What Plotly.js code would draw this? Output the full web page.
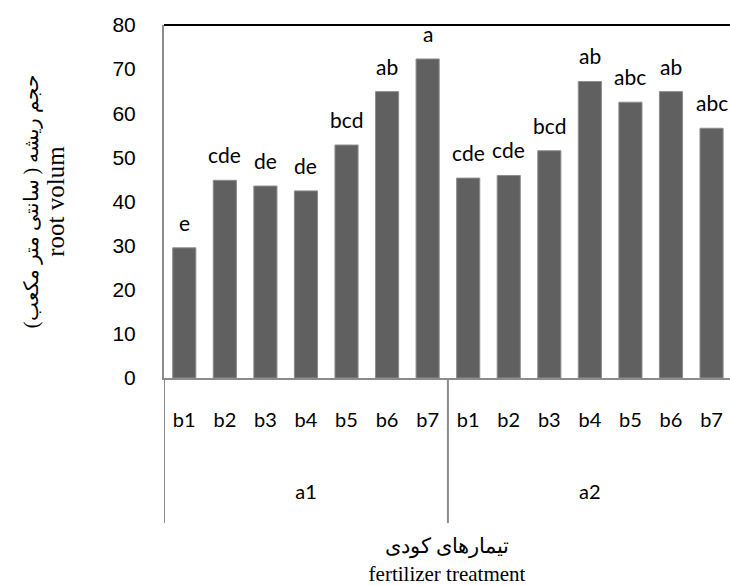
<!DOCTYPE html>
<html>
<head>
<meta charset="utf-8">
<script src="https://cdn.plot.ly/plotly-3.0.1.min.js"></script>
<style>html,body{margin:0;padding:0;background:#fff;}</style>
</head>
<body>
<div id="chart" style="width:730px;height:586px;"></div>
<script>
const groups = ["a1","a1","a1","a1","a1","a1","a1","a2","a2","a2","a2","a2","a2","a2"];
const treatments = ["b1","b2","b3","b4","b5","b6","b7","b1","b2","b3","b4","b5","b6","b7"];
const rootVolume = [29.5, 44.8, 43.5, 42.4, 52.8, 64.9, 72.3, 45.3, 45.9, 51.5, 67.2, 62.5, 64.9, 56.6];
const letters = ["e","cde","de","de","bcd","ab","a","cde","cde","bcd","ab","abc","ab","abc"];
const yTicks = [0,10,20,30,40,50,60,70,80];

// positions along the category axis (one slot per bar)
const slots = treatments.map((_, i) => i);
const groupNames = [...new Set(groups)];
const groupCenters = groupNames.map(g => {
  const idx = slots.filter(i => groups[i] === g);
  return (idx[0] + idx[idx.length - 1]) / 2;
});
const boundaries = [-0.5];
for (let i = 1; i < groups.length; i++) if (groups[i] !== groups[i - 1]) boundaries.push(i - 0.5);

const H = 586, T = 25, PLOT_BOTTOM = 378;
const paperH = H - T;
const yDomainBottom = (H - PLOT_BOTTOM) / paperH;
const dividerBottom = (H - 523) / paperH;
const groupAxisPos = (H - 478) / paperH;

const labelFont = {family: "Lato, 'Open Sans', sans-serif", size: 20, color: "#000"};
const letterFont = {family: "Lato, 'Open Sans', sans-serif", size: 21, color: "#000"};
const xRange = [-0.5, 13.455];

const bars = {
  type: "bar",
  x: slots,
  y: rootVolume,
  marker: {color: "#606060", line: {color: "#8c8c8c", width: 1}},
  hoverinfo: "none"
};
const groupTrace = {
  type: "scatter", mode: "none",
  x: groupCenters, y: groupCenters.map(() => 0),
  xaxis: "x2", yaxis: "y", hoverinfo: "skip", showlegend: false
};

const letterAnnotations = slots.map(i => ({
  xref: "x", yref: "y", x: slots[i], y: rootVolume[i],
  text: letters[i], showarrow: false,
  xanchor: "center", yanchor: "bottom", yshift: 11,
  font: letterFont
}));

const layout = {
  width: 730, height: 586,
  margin: {l: 164, r: 0, t: T, b: 0},
  paper_bgcolor: "#fff", plot_bgcolor: "#fff",
  showlegend: false,
  bargap: 0.43,
  xaxis: {
    range: xRange,
    tickvals: slots, ticktext: treatments,
    showline: true, linecolor: "#8c8c8c", linewidth: 2,
    showgrid: false, zeroline: false,
    ticks: "",
    ticklabelstandoff: 23,
    tickfont: labelFont
  },
  xaxis2: {
    overlaying: "x", anchor: "free", position: groupAxisPos, side: "bottom",
    range: xRange,
    tickvals: groupCenters, ticktext: groupNames,
    showline: false, showgrid: false, zeroline: false,
    ticks: "",
    tickfont: labelFont,
    title: {text: "تیمارهای کودی<br>fertilizer treatment", font: {family: "'Liberation Serif', 'DejaVu Serif', serif", size: 21, color: "#000"}, standoff: 36}
  },
  yaxis: {
    domain: [yDomainBottom, 1],
    range: [0, 80],
    tickvals: yTicks,
    showline: true, linecolor: "#8c8c8c", linewidth: 2,
    showgrid: false, zeroline: false,
    ticks: "",
    ticklabelstandoff: 22,
    tickfont: {family: "'Liberation Sans', Arial, sans-serif", size: 21, color: "#000"},
    title: {text: "حجم ریشه ( سانتی متر مکعب)<br><span style=\"font-size:25px\">root volum</span>", font: {family: "'Liberation Serif', 'DejaVu Serif', serif", size: 20, color: "#000"}, standoff: 42}
  },
  annotations: letterAnnotations,
  shapes: [
    {type: "line", xref: "paper", yref: "paper", x0: 0, x1: 1, y0: 1, y1: 1, line: {color: "#000", width: 2}}
  ].concat(boundaries.map(b => ({
    type: "line", xref: "x", yref: "paper", x0: b, x1: b, y0: dividerBottom, y1: yDomainBottom,
    line: {color: "#8c8c8c", width: 2}
  })))
};

Plotly.newPlot("chart", [bars, groupTrace], layout, {displayModeBar: false, staticPlot: true});
</script>
</body>
</html>
